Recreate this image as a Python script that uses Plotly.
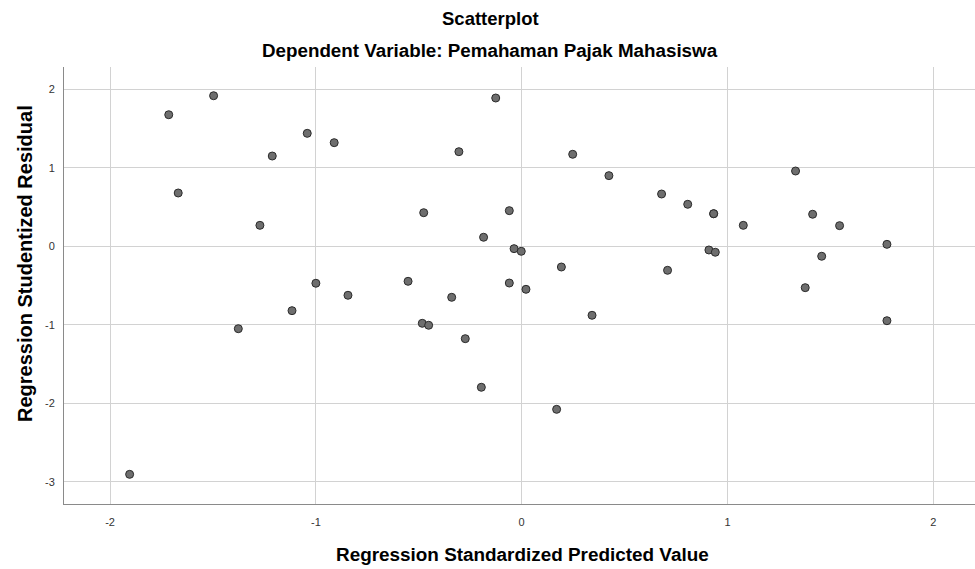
import plotly.graph_objects as go

pred = [-1.497, -1.715, -1.042, -0.911, -1.212, -1.669, -1.272, -1.000, -0.844,
        -1.116, -1.377, -1.905,
        -0.126, -0.305, 0.248, 0.424, 0.680, 0.807, -0.476, -0.060, -0.185,
        -0.037, -0.002, 0.193, 0.709, -0.552, -0.060, 0.021, -0.340,
        -0.483, -0.452, -0.274, 0.342, -0.196, 0.170,
        1.331, 0.933, 0.933, 1.077, 1.414, 1.545, 1.775, 0.910, 0.941, 1.458, 1.378, 1.775]
resid = [1.918, 1.676, 1.439, 1.320, 1.150, 0.679, 0.267, -0.471, -0.624,
         -0.820, -1.050, -2.905,
         1.889, 1.205, 1.172, 0.900, 0.666, 0.535, 0.428, 0.454, 0.115,
         -0.030, -0.064, -0.264, -0.306, -0.446, -0.468, -0.548, -0.650,
         -0.981, -1.006, -1.177, -0.879, -1.796, -2.077,
         0.959, 0.415, 0.415, 0.267, 0.408, 0.263, 0.025, -0.047, -0.076, -0.127, -0.527, -0.948]

xticks = [-2, -1, 0, 1, 2]
yticks = [-3, -2, -1, 0, 1, 2]

W, H = 975, 569
ml, mr, mt, mb = 64, 0, 67, 65
ph = H - mt - mb
pw = W - ml - mr


def px(x):
    return (x - ml) / pw


def py(y):
    return (H - mb - y) / ph


fig = go.Figure()
fig.add_trace(go.Scatter(
    x=pred, y=resid, mode="markers",
    marker=dict(size=8, color="#6e6e6e", line=dict(color="#2b2b2b", width=1)),
    showlegend=False, hoverinfo="x+y"))

font_b = "Liberation Sans"
fig.update_layout(
    width=W, height=H,
    margin=dict(l=ml, r=mr, t=mt, b=mb),
    plot_bgcolor="white", paper_bgcolor="white",
    xaxis=dict(range=[-2.224, 2.203], tickvals=xticks, ticktext=[str(v) for v in xticks],
               showgrid=True, gridcolor="#d2d2d2", gridwidth=1,
               zeroline=False, showline=True, linecolor="#8a8a8a", linewidth=1,
               ticks="", ticklabelstandoff=8,
               tickfont=dict(family=font_b, size=11, color="#333333")),
    yaxis=dict(range=[-3.283, 2.284], tickvals=yticks, ticktext=[str(v) for v in yticks],
               showgrid=True, gridcolor="#d2d2d2", gridwidth=1,
               zeroline=False, showline=True, linecolor="#8a8a8a", linewidth=1,
               ticks="", ticklabelstandoff=6,
               tickfont=dict(family=font_b, size=11, color="#333333")),
    annotations=[
        dict(text="<b>Scatterplot</b>", xref="paper", yref="paper",
             x=px(490), y=py(18), showarrow=False,
             xanchor="center", yanchor="middle",
             font=dict(family=font_b, size=18.5, color="black")),
        dict(text="<b>Dependent Variable: Pemahaman Pajak Mahasiswa</b>", xref="paper", yref="paper",
             x=px(490), y=py(51), showarrow=False,
             xanchor="center", yanchor="middle",
             font=dict(family=font_b, size=18.8, color="black")),
        dict(text="<b>Regression Standardized Predicted Value</b>", xref="paper", yref="paper",
             x=px(522), y=py(554), showarrow=False,
             xanchor="center", yanchor="middle",
             font=dict(family=font_b, size=18.9, color="black")),
        dict(text="<b>Regression Studentized Residual</b>", xref="paper", yref="paper",
             x=px(25), y=py(264), showarrow=False, textangle=-90,
             xanchor="center", yanchor="middle",
             font=dict(family=font_b, size=20, color="black")),
    ],
)

fig.write_html("out.html", config={"displayModeBar": False},
               post_script="document.body.style.margin='0';document.body.style.overflow='hidden';")
